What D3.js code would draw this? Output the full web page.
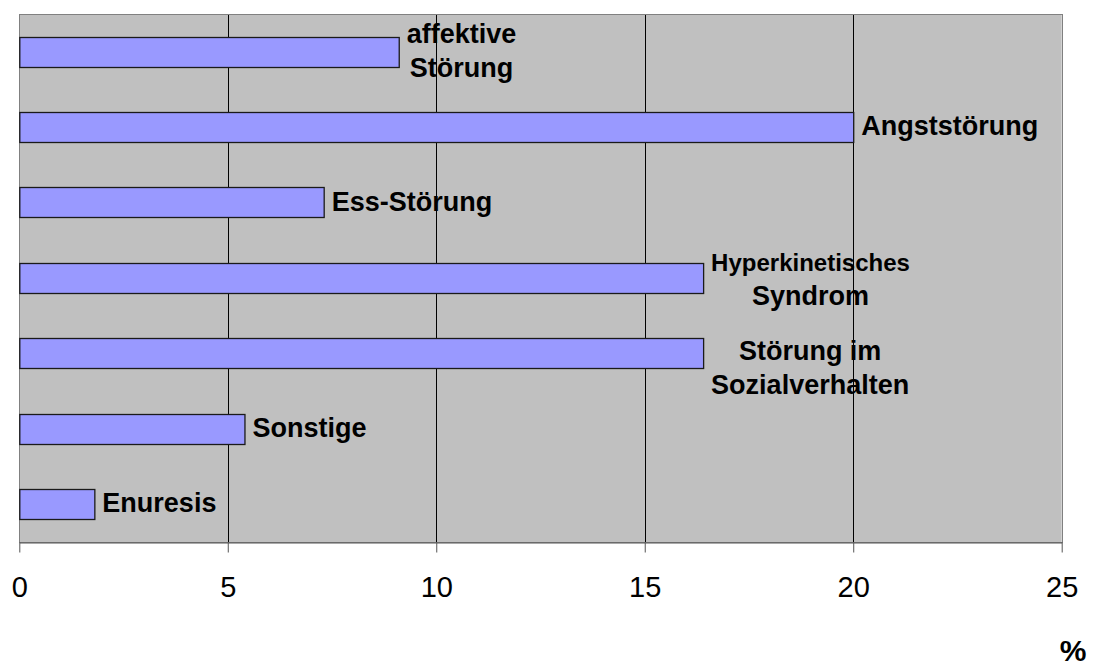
<!DOCTYPE html>
<html><head><meta charset="utf-8">
<script src="https://cdn.jsdelivr.net/npm/d3@7"></script>
<style>body{margin:0;background:#fff}svg{display:block}text{font-family:"Liberation Sans",Arial,sans-serif}</style>
</head><body>
<script>
const categories = ["affektive Störung","Angststörung","Ess-Störung","Hyperkinetisches Syndrom","Störung im Sozialverhalten","Sonstige","Enuresis"];
const values = [9.1, 20.0, 7.3, 16.4, 16.4, 5.4, 1.8];
const labelLines = [["affektive","Störung"],["Angststörung"],["Ess-Störung"],["Hyperkinetisches","Syndrom"],["Störung im","Sozialverhalten"],["Sonstige"],["Enuresis"]];
const tickValues = [0,5,10,15,20,25];
const axisTitle = "%";

// label layout (styles, not data)
const lineFont = [[27,27],[27],[27],[24,27],[27,27],[27],[27]];
const firstBaseline = [-8.5,8,8,-7,7,8,8]; // relative to bar center
const lineGap = 34;

const W=1095,H=668;
const m={l:19.3,r:1061.7,t:14,b:542};
const svg=d3.select("body").append("svg").attr("width",W).attr("height",H);
const x=d3.scaleLinear().domain([0,25]).range([m.l,m.r]);
const y=d3.scaleBand().domain(categories).range([m.t,m.b]).paddingInner(0.6).paddingOuter(0.3);

svg.append("rect").attr("x",m.l).attr("y",m.t).attr("width",m.r-m.l).attr("height",m.b-m.t).attr("fill","#C0C0C0");

// gridlines
svg.append("g").selectAll("line").data(tickValues.filter(d=>d>0&&d<25)).join("line")
  .attr("x1",d=>Math.round(x(d))+0.5).attr("x2",d=>Math.round(x(d))+0.5)
  .attr("y1",m.t).attr("y2",m.b).attr("stroke","#000").attr("stroke-width",1);

// border
svg.append("rect").attr("x",Math.round(m.l)+0.5).attr("y",m.t+0.5).attr("width",Math.round(m.r)-Math.round(m.l)).attr("height",m.b-m.t).attr("fill","none").attr("stroke","#808080");

// x axis
const ax=svg.append("g").attr("transform",`translate(0,${m.b+0.5})`)
  .call(d3.axisBottom(x).tickValues(tickValues).tickSize(10).tickSizeOuter(0).tickPadding(24).tickFormat(d3.format("d")));
ax.select(".domain").attr("stroke","#555");
ax.selectAll(".tick line").attr("stroke","#555");
ax.selectAll(".tick text").attr("font-size",29).attr("fill","#000").attr("font-family",'"Liberation Sans",Arial,sans-serif');

// bars
svg.append("g").selectAll("rect").data(categories).join("rect")
  .attr("x",x(0)+0.5).attr("y",d=>Math.round(y(d))+0.5)
  .attr("width",(d,i)=>x(values[i])-x(0)).attr("height",Math.round(y.bandwidth()))
  .attr("fill","#9999FF").attr("stroke","#1a1a1a").attr("stroke-width",1.3);

// labels
categories.forEach((c,i)=>{
  const cy=y(c)+y.bandwidth()/2;
  const g=svg.append("g");
  const texts=labelLines[i].map((t,j)=>g.append("text").text(t)
    .attr("font-weight","bold").attr("font-size",lineFont[i][j]).attr("fill","#000")
    .attr("y",cy+firstBaseline[i]+j*lineGap));
  const widths=texts.map(t=>t.node().getComputedTextLength());
  const wmax=d3.max(widths);
  const left=x(values[i])+8;
  texts.forEach((t,j)=>t.attr("x",left+(wmax-widths[j])/2));
});

svg.append("text").text(axisTitle).attr("x",1073).attr("y",661).attr("text-anchor","middle")
  .attr("font-weight","bold").attr("font-size",30).attr("fill","#000");
</script>
</body></html>
